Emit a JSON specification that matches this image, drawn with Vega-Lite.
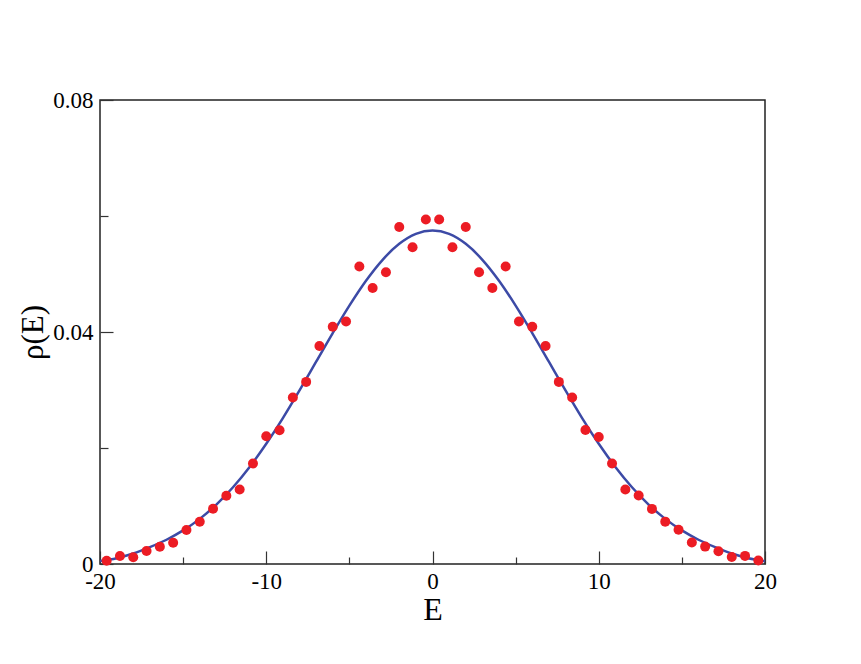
{
  "$schema": "https://vega.github.io/schema/vega-lite/v6.json",
  "width": 665,
  "height": 464,
  "autosize": "none",
  "padding": {"left": 100, "top": 100, "right": 96, "bottom": 100},
  "background": "white",
  "config": {
    "view": {"stroke": "#222222", "strokeWidth": 1.5},
    "font": "Liberation Serif",
    "locale": {"number": {"decimal": ".", "thousands": ",", "grouping": [3], "currency": ["$", ""], "minus": "-"}}
  },
  "datasets": {
    "pts": [
      {"E": -19.6, "rho": 0.00057}, {"E": -18.8, "rho": 0.00138}, {"E": -18.0, "rho": 0.00115},
      {"E": -17.2, "rho": 0.00224}, {"E": -16.4, "rho": 0.00298}, {"E": -15.6, "rho": 0.00367},
      {"E": -14.8, "rho": 0.00585}, {"E": -14.0, "rho": 0.00728}, {"E": -13.2, "rho": 0.00952},
      {"E": -12.4, "rho": 0.01176}, {"E": -11.6, "rho": 0.01286}, {"E": -10.8, "rho": 0.01734},
      {"E": -10.0, "rho": 0.02204}, {"E": -9.2, "rho": 0.02307}, {"E": -8.4, "rho": 0.0287},
      {"E": -7.6, "rho": 0.0314}, {"E": -6.8, "rho": 0.0376}, {"E": -6.0, "rho": 0.0409},
      {"E": -5.2, "rho": 0.0418}, {"E": -4.4, "rho": 0.0513}, {"E": -3.6, "rho": 0.0476},
      {"E": -2.8, "rho": 0.0503}, {"E": -2.0, "rho": 0.0581}, {"E": -1.2, "rho": 0.0546},
      {"E": -0.4, "rho": 0.0594}, {"E": 0.4, "rho": 0.0594}, {"E": 1.2, "rho": 0.0546},
      {"E": 2.0, "rho": 0.0581}, {"E": 2.8, "rho": 0.0503}, {"E": 3.6, "rho": 0.0476},
      {"E": 4.4, "rho": 0.0513}, {"E": 5.2, "rho": 0.0418}, {"E": 6.0, "rho": 0.0409},
      {"E": 6.8, "rho": 0.0376}, {"E": 7.6, "rho": 0.0314}, {"E": 8.4, "rho": 0.0287},
      {"E": 9.2, "rho": 0.0231}, {"E": 10.0, "rho": 0.0219}, {"E": 10.8, "rho": 0.01734},
      {"E": 11.6, "rho": 0.01286}, {"E": 12.4, "rho": 0.0118}, {"E": 13.2, "rho": 0.0095},
      {"E": 14.0, "rho": 0.0073}, {"E": 14.8, "rho": 0.0059}, {"E": 15.6, "rho": 0.0037},
      {"E": 16.4, "rho": 0.0030}, {"E": 17.2, "rho": 0.0022}, {"E": 18.0, "rho": 0.0012},
      {"E": 18.8, "rho": 0.0014}, {"E": 19.6, "rho": 0.0006}
    ],
    "curve": [
      {"E": -20, "rho": 0.0005}, {"E": -19, "rho": 0.0010}, {"E": -18, "rho": 0.0018},
      {"E": -17, "rho": 0.0029}, {"E": -16, "rho": 0.00418}, {"E": -15, "rho": 0.00579},
      {"E": -14, "rho": 0.00778}, {"E": -13, "rho": 0.01025}, {"E": -12, "rho": 0.01323},
      {"E": -11, "rho": 0.01673}, {"E": -10, "rho": 0.02073}, {"E": -9, "rho": 0.02516},
      {"E": -8, "rho": 0.02993}, {"E": -7, "rho": 0.03488}, {"E": -6, "rho": 0.03982},
      {"E": -5, "rho": 0.04455}, {"E": -4, "rho": 0.04884}, {"E": -3, "rho": 0.05245},
      {"E": -2, "rho": 0.0552}, {"E": -1, "rho": 0.05692}, {"E": 0, "rho": 0.0575},
      {"E": 1, "rho": 0.05692}, {"E": 2, "rho": 0.0552}, {"E": 3, "rho": 0.05245},
      {"E": 4, "rho": 0.04884}, {"E": 5, "rho": 0.04455}, {"E": 6, "rho": 0.03982},
      {"E": 7, "rho": 0.03488}, {"E": 8, "rho": 0.02993}, {"E": 9, "rho": 0.02516},
      {"E": 10, "rho": 0.02073}, {"E": 11, "rho": 0.01673}, {"E": 12, "rho": 0.01323},
      {"E": 13, "rho": 0.01025}, {"E": 14, "rho": 0.00778}, {"E": 15, "rho": 0.00579},
      {"E": 16, "rho": 0.00418}, {"E": 17, "rho": 0.0029}, {"E": 18, "rho": 0.0018},
      {"E": 19, "rho": 0.0010}, {"E": 20, "rho": 0.0005}
    ]
  },
  "resolve": {"axis": {"x": "independent", "y": "independent"}},
  "layer": [
    {
      "data": {"name": "curve"},
      "mark": {"type": "line", "color": "#3c4aa6", "strokeWidth": 2.5, "interpolate": "monotone", "clip": true},
      "encoding": {
        "x": {
          "field": "E", "type": "quantitative",
          "scale": {"domain": [-20, 20], "nice": false, "zero": false},
          "axis": {
            "orient": "bottom",
            "title": "E",
            "titleFont": "Liberation Serif", "titleFontSize": 32, "titleFontWeight": "normal", "titleColor": "black",
            "titlePadding": 1,
            "values": [-20, -10, 0, 10, 20],
            "format": "d",
            "labelFont": "Liberation Serif", "labelFontSize": 23, "labelColor": "black",
            "labelPadding": 6, "labelFlush": false, "labelOverlap": false,
            "ticks": false, "tickSize": 0,
            "domain": false, "grid": false
          }
        },
        "y": {
          "field": "rho", "type": "quantitative",
          "scale": {"domain": [0, 0.08], "nice": false},
          "axis": {
            "orient": "left",
            "title": "ρ(E)",
            "titleFont": "Liberation Serif", "titleFontSize": 31, "titleFontWeight": "normal", "titleColor": "black",
            "titlePadding": 3,
            "values": [0, 0.04, 0.08],
            "format": "~g",
            "labelFont": "Liberation Serif", "labelFontSize": 23, "labelColor": "black",
            "labelPadding": 7, "labelFlush": false, "labelOverlap": false,
            "ticks": false, "tickSize": 0,
            "domain": false, "grid": false
          }
        }
      }
    },
    {
      "data": {"name": "pts"},
      "mark": {"type": "circle", "color": "#ec1c24", "opacity": 1, "size": 100},
      "encoding": {
        "x": {
          "field": "E", "type": "quantitative",
          "axis": {
            "orient": "bottom", "title": null, "labels": false,
            "values": [-20, -10, 0, 10, 20],
            "ticks": true, "tickSize": -13,
            "tickColor": "#333333", "tickWidth": 1.2,
            "domain": false, "grid": false
          }
        },
        "y": {
          "field": "rho", "type": "quantitative",
          "axis": {
            "orient": "left", "title": null, "labels": false,
            "values": [0, 0.04, 0.08],
            "ticks": true, "tickSize": -13,
            "tickColor": "#333333", "tickWidth": 1.2,
            "domain": false, "grid": false
          }
        }
      }
    },
    {
      "data": {"name": "pts"},
      "mark": {"type": "circle", "opacity": 0, "size": 1},
      "encoding": {
        "x": {
          "field": "E", "type": "quantitative",
          "axis": {
            "orient": "bottom", "title": null, "labels": false,
            "values": [-15, -5, 5, 15],
            "ticks": true, "tickSize": -7,
            "tickColor": "#333333", "tickWidth": 1.2,
            "domain": false, "grid": false
          }
        },
        "y": {
          "field": "rho", "type": "quantitative",
          "axis": {
            "orient": "left", "title": null, "labels": false,
            "values": [0.02, 0.06],
            "ticks": true, "tickSize": -8,
            "tickColor": "#333333", "tickWidth": 1.2,
            "domain": false, "grid": false
          }
        }
      }
    }
  ]
}
